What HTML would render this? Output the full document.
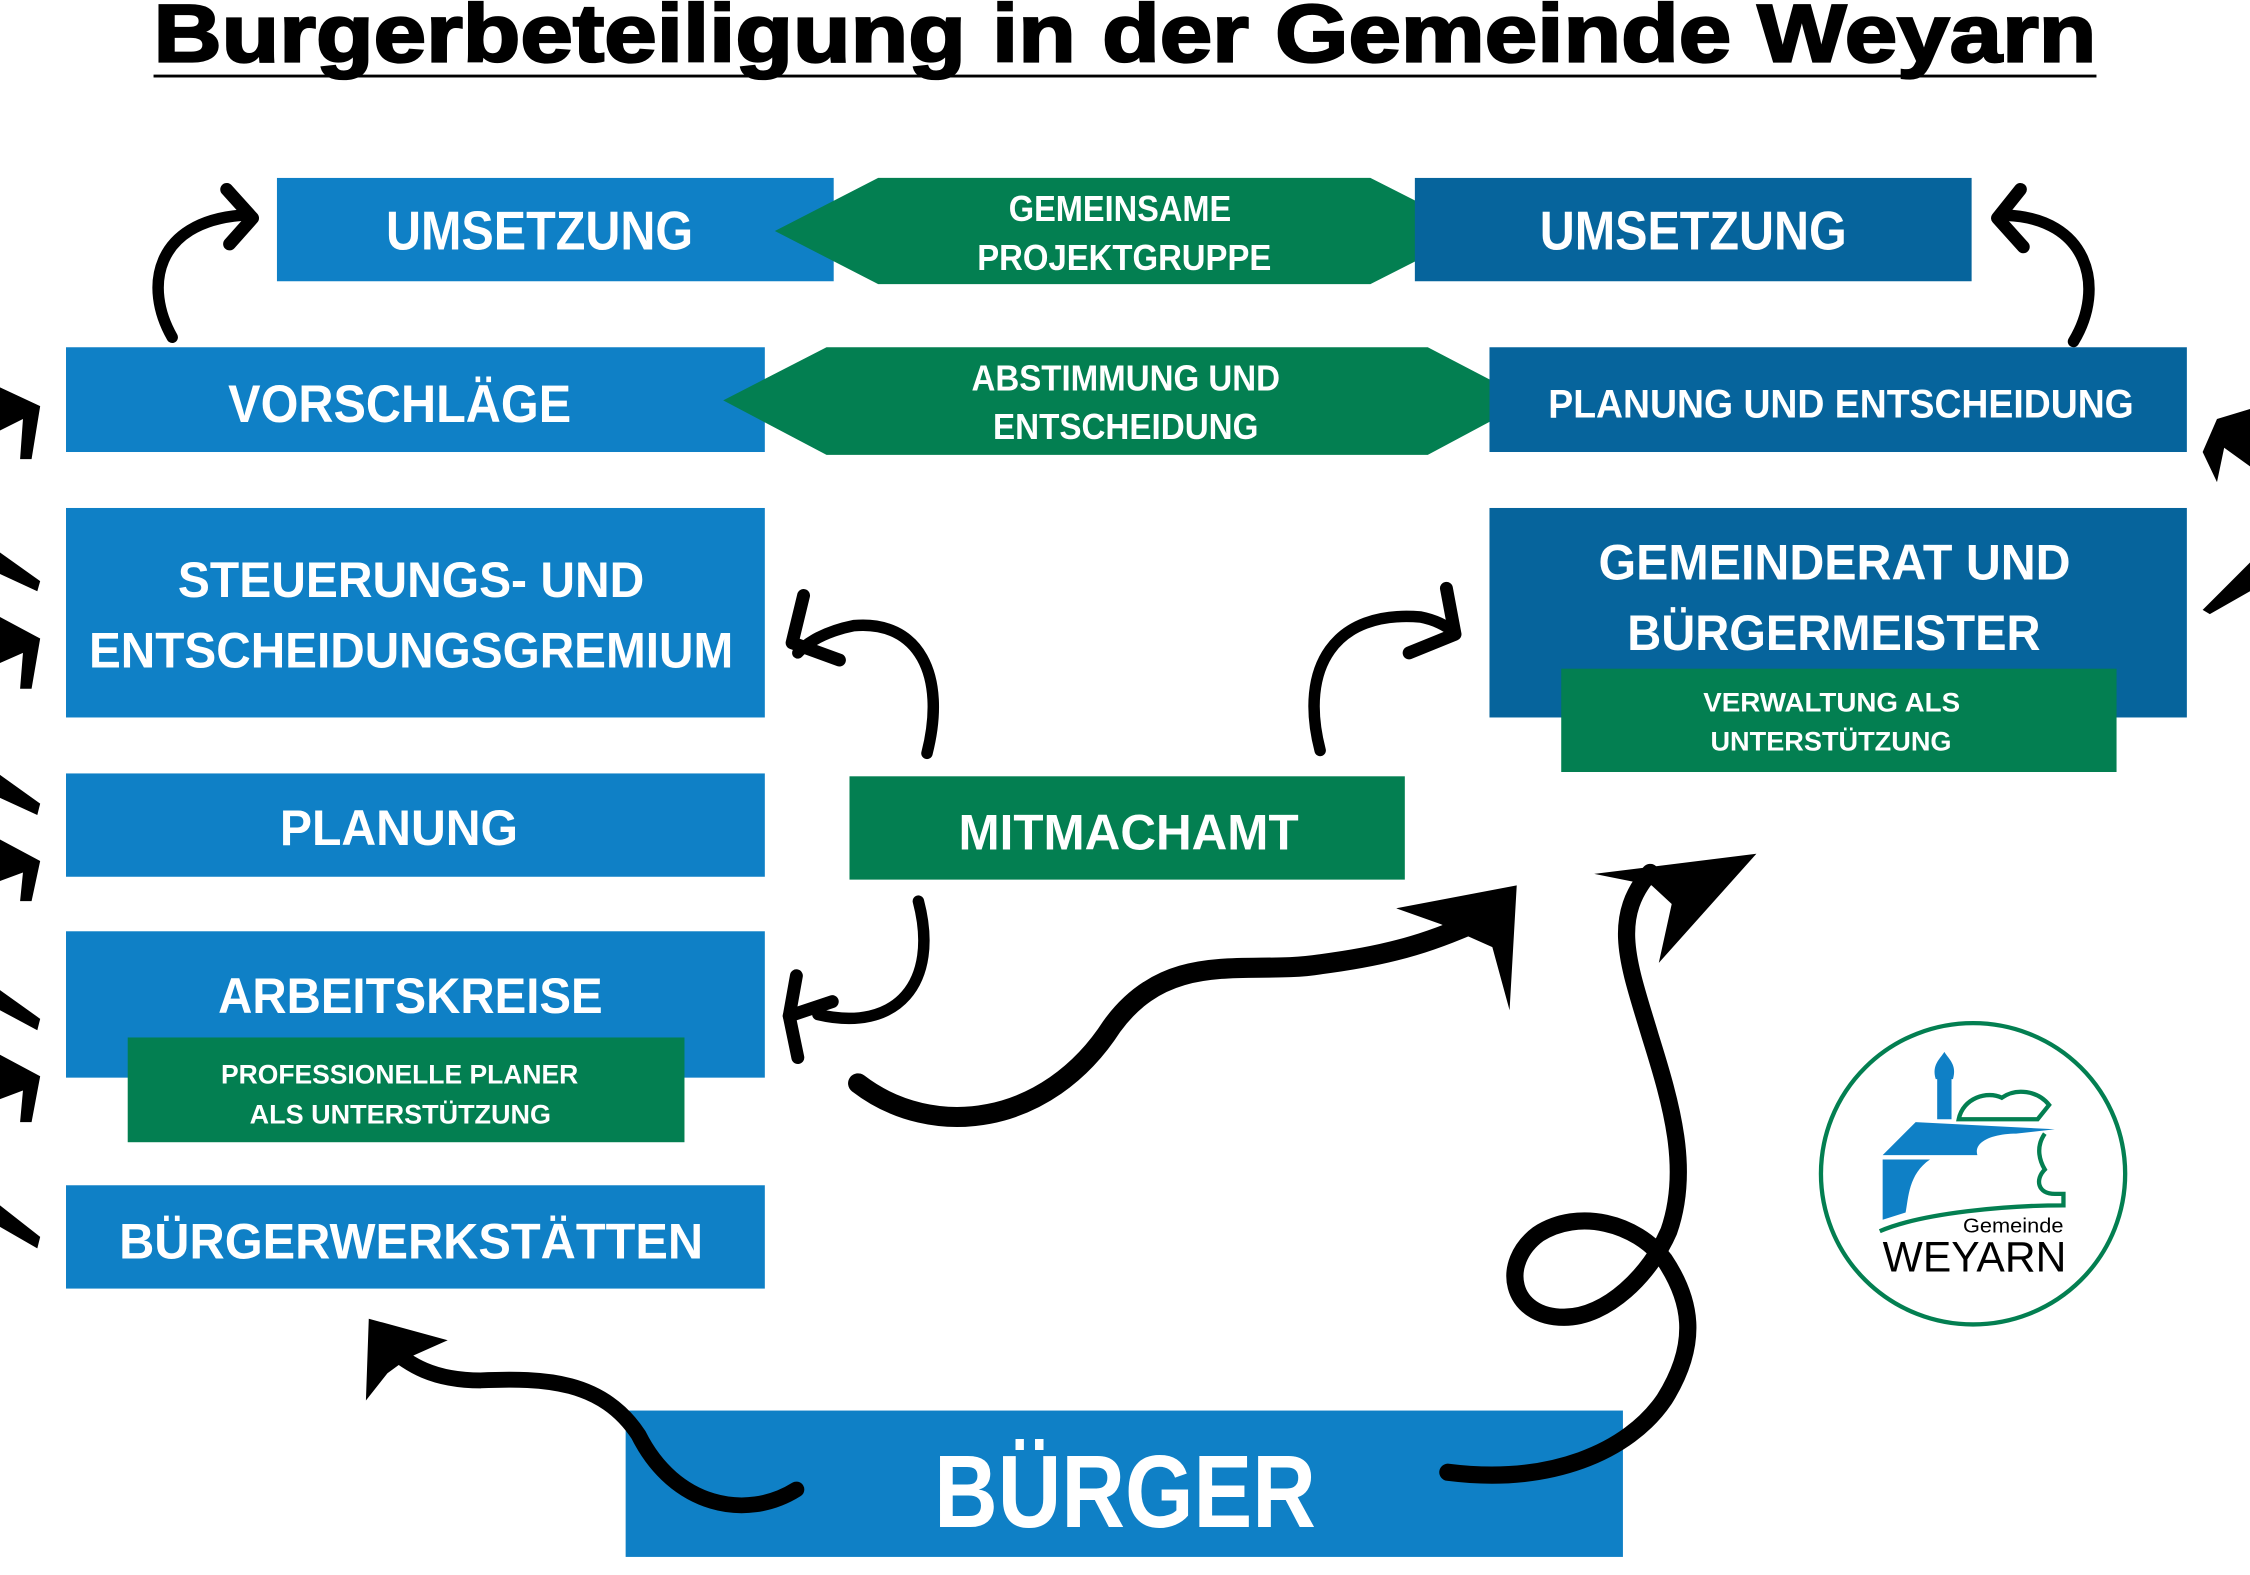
<!DOCTYPE html>
<html><head><meta charset="utf-8"><style>
html,body{margin:0;padding:0;background:#fff;}
svg{display:block;}
text{font-family:"Liberation Sans",Arial,sans-serif;font-weight:bold;fill:#fff;}
</style></head><body>
<svg width="2250" height="1575" viewBox="0 0 1568 1097.6" preserveAspectRatio="none" xmlns="http://www.w3.org/2000/svg">
<rect x="0" y="0" width="1568" height="1098" fill="#fff"/>
<!-- Title -->
<text x="107" y="43" font-size="57" style="fill:#000;stroke:#000;stroke-width:1.6" textLength="1354" lengthAdjust="spacingAndGlyphs">Burgerbeteiligung in der Gemeinde Weyarn</text>
<rect x="107" y="52" width="1354" height="2" fill="#000"/>

<!-- Row 1 -->
<rect x="193" y="124" width="388" height="72" fill="#0f80c6"/>
<text x="269" y="174" font-size="38" textLength="214" lengthAdjust="spacingAndGlyphs">UMSETZUNG</text>
<polygon points="540,161 612,124 955,124 1028,161 955,198 612,198" fill="#037f51"/>
<rect x="986" y="124" width="388" height="72" fill="#06649c"/>
<text x="1073" y="174" font-size="38" textLength="214" lengthAdjust="spacingAndGlyphs">UMSETZUNG</text>
<text x="703" y="154" font-size="25" textLength="155" lengthAdjust="spacingAndGlyphs">GEMEINSAME</text>
<text x="681" y="188" font-size="25" textLength="205" lengthAdjust="spacingAndGlyphs">PROJEKTGRUPPE</text>

<!-- Row 2 -->
<rect x="46" y="242" width="487" height="73" fill="#0f80c6"/>
<text x="159" y="294" font-size="37" textLength="239" lengthAdjust="spacingAndGlyphs">VORSCHLÄGE</text>
<polygon points="504,279 576,242 995,242 1066,279 995,317 576,317" fill="#037f51"/>
<text x="677" y="272" font-size="25" textLength="215" lengthAdjust="spacingAndGlyphs">ABSTIMMUNG UND</text>
<text x="692" y="306" font-size="25" textLength="185" lengthAdjust="spacingAndGlyphs">ENTSCHEIDUNG</text>
<rect x="1038" y="242" width="486" height="73" fill="#06649c"/>
<text x="1079" y="291" font-size="28" textLength="408" lengthAdjust="spacingAndGlyphs">PLANUNG UND ENTSCHEIDUNG</text>

<!-- Row 3 -->
<rect x="46" y="354" width="487" height="146" fill="#0f80c6"/>
<text x="124" y="416" font-size="35" textLength="325" lengthAdjust="spacingAndGlyphs">STEUERUNGS- UND</text>
<text x="62" y="465" font-size="35" textLength="449" lengthAdjust="spacingAndGlyphs">ENTSCHEIDUNGSGREMIUM</text>
<rect x="1038" y="354" width="486" height="146" fill="#06649c"/>
<text x="1114" y="404" font-size="35" textLength="329" lengthAdjust="spacingAndGlyphs">GEMEINDERAT UND</text>
<text x="1134" y="453" font-size="35" textLength="288" lengthAdjust="spacingAndGlyphs">BÜRGERMEISTER</text>
<rect x="1088" y="466" width="387" height="72" fill="#037f51"/>
<text x="1187" y="496" font-size="19" textLength="179" lengthAdjust="spacingAndGlyphs">VERWALTUNG ALS</text>
<text x="1192" y="523" font-size="19" textLength="168" lengthAdjust="spacingAndGlyphs">UNTERSTÜTZUNG</text>

<!-- Row 4 -->
<rect x="46" y="539" width="487" height="72" fill="#0f80c6"/>
<text x="195" y="589" font-size="35" textLength="166" lengthAdjust="spacingAndGlyphs">PLANUNG</text>
<rect x="592" y="541" width="387" height="72" fill="#037f51"/>
<text x="668" y="592" font-size="35" textLength="237" lengthAdjust="spacingAndGlyphs">MITMACHAMT</text>

<!-- Row 5 -->
<rect x="46" y="649" width="487" height="102" fill="#0f80c6"/>
<text x="152" y="706" font-size="35" textLength="268" lengthAdjust="spacingAndGlyphs">ARBEITSKREISE</text>
<rect x="89" y="723" width="388" height="73" fill="#037f51"/>
<text x="154" y="755" font-size="19" textLength="249" lengthAdjust="spacingAndGlyphs">PROFESSIONELLE PLANER</text>
<text x="174" y="783" font-size="19" textLength="210" lengthAdjust="spacingAndGlyphs">ALS UNTERSTÜTZUNG</text>

<!-- Row 6 -->
<rect x="46" y="826" width="487" height="72" fill="#0f80c6"/>
<text x="83" y="877" font-size="35" textLength="407" lengthAdjust="spacingAndGlyphs">BÜRGERWERKSTÄTTEN</text>

<!-- Bürger -->
<rect x="436" y="983" width="695" height="102" fill="#0f80c6"/>
<text x="651" y="1064" font-size="72" textLength="266" lengthAdjust="spacingAndGlyphs">BÜRGER</text>

<!-- Arrows -->
<g fill="none" stroke="#000" stroke-linecap="round" stroke-linejoin="round">
  <path d="M120,235 C100,200 108,155 168,150" stroke-width="8"/>
  <polyline points="158,132 176,152 160,170" stroke-width="9"/>
  <path d="M1445,238 C1468,200 1455,152 1398,150" stroke-width="8"/>
  <polyline points="1408,132 1392,152 1410,172" stroke-width="9"/>
  <path d="M646,525 C660,470 640,432 595,436 C575,440 562,448 556,455" stroke-width="8"/>
  <polyline points="560,415 552,448 585,460" stroke-width="9"/>
  <path d="M920,523 C905,465 930,425 990,430 C1000,432 1008,436 1012,440" stroke-width="8"/>
  <polyline points="1008,410 1014,442 982,455" stroke-width="9"/>
  <path d="M640,628 C655,685 625,720 570,707" stroke-width="8"/>
  <polyline points="555,680 550,708 556,737" stroke-width="9"/>
  <polyline points="550,708 580,698" stroke-width="9"/>
  <path d="M598,755 C650,795 730,785 775,715 C815,660 870,680 920,672 C975,665 1000,655 1035,640" stroke-width="14"/>
  <path d="M1009,1026 C1080,1035 1135,1012 1160,975 C1185,935 1178,905 1160,878 C1140,852 1100,842 1072,860 C1045,880 1052,918 1090,918 C1120,918 1150,888 1163,858 C1178,815 1165,770 1150,722 C1135,672 1122,640 1150,608" stroke-width="12"/>
  <path d="M555,1038 C520,1060 470,1050 445,1000 C420,962 380,960 335,962 C300,962 285,950 272,940" stroke-width="11"/>
</g>
<g fill="#000">
  <polygon points="973,633 1057,617 1052,704 1040,660 1004,644"/>
  <polygon points="1111,609 1224,595 1156,671 1165,630 1151,617"/>
  <polygon points="257,919 312,934 285,946 270,957 255,976"/>
  <polygon points="0,270 28,283 22,320 14,320 16,292 0,300"/>
  <polygon points="0,385 28,405 26,412 0,400"/>
  <polygon points="0,430 28,445 22,480 14,480 16,455 0,462"/>
  <polygon points="0,540 28,560 26,568 0,556"/>
  <polygon points="0,585 28,600 22,628 14,628 16,608 0,614"/>
  <polygon points="0,690 28,710 26,718 0,704"/>
  <polygon points="0,735 28,750 22,782 14,782 16,760 0,766"/>
  <polygon points="0,840 28,862 26,870 0,855"/>
  <polygon points="1568,285 1545,292 1535,315 1545,336 1550,312 1568,325"/>
  <polygon points="1568,392 1548,412 1535,425 1540,428 1568,412"/>
</g>

<!-- Logo -->
<ellipse cx="1375" cy="818" rx="106" ry="105" fill="#fff" stroke="#037f51" stroke-width="3"/>
<g>
  <rect x="1350" y="750" width="10" height="30" fill="#0f80c6"/>
  <path d="M1349,752 C1346,742 1352,738 1355,733 C1358,738 1364,742 1361,752 Z" fill="#0f80c6"/>
  <path d="M1365,780 C1368,765 1385,760 1395,765 C1405,758 1420,760 1428,770 L1420,780 Z" fill="none" stroke="#037f51" stroke-width="3"/>
  <path d="M1335,782 L1432,787 L1405,790 C1390,790 1375,795 1378,805 L1312,805 Z" fill="#0f80c6"/>
  <path d="M1312,808 L1345,808 C1330,818 1330,835 1328,845 L1312,850 Z" fill="#0f80c6"/>
  <path d="M1425,790 C1418,800 1422,810 1425,815 C1418,822 1420,832 1432,832 L1438,832 L1438,840 C1400,840 1340,845 1310,858" fill="none" stroke="#037f51" stroke-width="3"/>
</g>
<text x="1368" y="859" font-size="14" style="fill:#000;font-weight:normal" textLength="70" lengthAdjust="spacingAndGlyphs">Gemeinde</text>
<text x="1312" y="886" font-size="30" style="fill:#000;font-weight:normal" textLength="128" lengthAdjust="spacingAndGlyphs">WEYARN</text>
</svg>
</body></html>
